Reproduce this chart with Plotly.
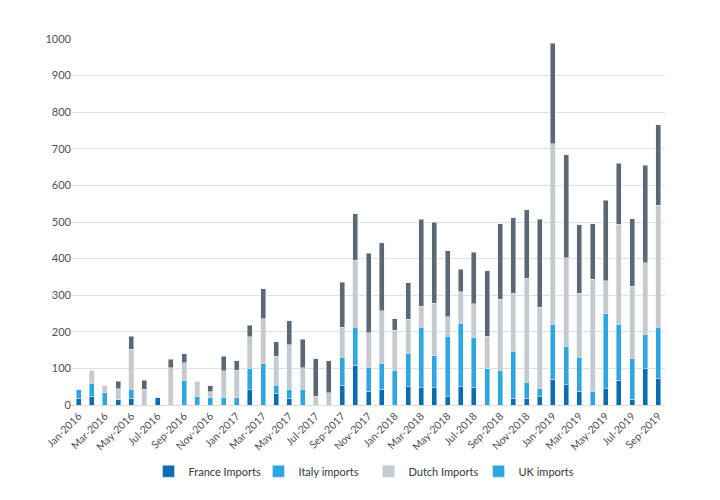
import plotly.graph_objects as go

months = [
    "Jan-2016", "Feb-2016", "Mar-2016", "Apr-2016", "May-2016", "Jun-2016",
    "Jul-2016", "Aug-2016", "Sep-2016", "Oct-2016", "Nov-2016", "Dec-2016",
    "Jan-2017", "Feb-2017", "Mar-2017", "Apr-2017", "May-2017", "Jun-2017",
    "Jul-2017", "Aug-2017", "Sep-2017", "Oct-2017", "Nov-2017", "Dec-2017",
    "Jan-2018", "Feb-2018", "Mar-2018", "Apr-2018", "May-2018", "Jun-2018",
    "Jul-2018", "Aug-2018", "Sep-2018", "Oct-2018", "Nov-2018", "Dec-2018",
    "Jan-2019", "Feb-2019", "Mar-2019", "Apr-2019", "May-2019", "Jun-2019",
    "Jul-2019", "Aug-2019", "Sep-2019",
]

france = [19, 24, 0, 16, 19, 0, 20, 0, 0, 0, 0, 0,
          0, 42, 0, 32, 19, 0, 0, 0, 54, 109, 38, 43,
          0, 50, 47, 47, 22, 50, 49, 0, 0, 19, 19, 23,
          71, 56, 38, 0, 45, 67, 16, 99, 73]
italy = [24, 36, 33, 0, 24, 0, 0, 0, 68, 22, 20, 20,
         20, 59, 113, 22, 22, 43, 0, 0, 77, 104, 64, 71,
         95, 92, 166, 88, 166, 173, 135, 99, 94, 127, 43, 23,
         149, 105, 93, 38, 205, 153, 111, 93, 140]
dutch = [0, 35, 20, 29, 109, 43, 0, 102, 48, 42, 16, 73,
         75, 85, 123, 79, 124, 59, 24, 33, 82, 182, 96, 144,
         109, 92, 57, 143, 53, 86, 92, 89, 195, 159, 284, 221,
         494, 241, 174, 305, 90, 274, 197, 196, 333]
uk = [0, 0, 0, 20, 36, 24, 0, 23, 24, 0, 16, 40,
      26, 32, 82, 40, 65, 78, 102, 88, 123, 128, 216, 185,
      32, 100, 237, 222, 180, 62, 142, 179, 206, 206, 188, 241,
      275, 282, 187, 152, 219, 166, 185, 267, 220]

tick_labels = months[::2]
y_ticks = [0, 100, 200, 300, 400, 500, 600, 700, 800, 900, 1000]

c_france = "#0b6cb0"
c_italy = "#2ea6df"
c_dutch = "#c5cace"
c_uk = "#5e6872"

fig = go.Figure()
fig.add_trace(go.Bar(x=months, y=france, name="France Imports", marker_color=c_france))
fig.add_trace(go.Bar(x=months, y=italy, name="Italy imports", marker_color=c_italy))
fig.add_trace(go.Bar(x=months, y=dutch, name="Dutch Imports", marker_color=c_dutch))
fig.add_trace(go.Bar(x=months, y=uk, name="UK imports", marker_color=c_uk, showlegend=False))
# legend entry as drawn in the original (light blue swatch)
fig.add_trace(go.Bar(x=[None], y=[None], name="UK imports", marker_color=c_italy))

fig.update_layout(
    width=720, height=500,
    barmode="stack", bargap=0.62,
    paper_bgcolor="white", plot_bgcolor="white",
    margin=dict(l=64, r=63, t=31, b=103, autoexpand=False),
    font=dict(family="Lato, Noto Sans, sans-serif", size=11, color="#555a60"),
    showlegend=True,
    legend=dict(
        orientation="h", x=0.5, xanchor="center", y=-0.181, yanchor="middle",
        traceorder="normal", font=dict(size=11, color="#33383f"),
        entrywidth=65, entrywidthmode="pixels",
        itemwidth=30,
    ),
    xaxis=dict(
        type="category", categoryorder="array", categoryarray=months,
        tickmode="array", tickvals=tick_labels, ticktext=tick_labels,
        tickangle=-45, showgrid=False, showline=True, linecolor="#dcdcdc",
        linewidth=1, ticks="", tickfont=dict(size=10.5, color="#4c5158"),
        automargin=False,
    ),
    yaxis=dict(
        range=[0, 1000], tickmode="array", tickvals=y_ticks,
        showgrid=True, gridcolor="#e0e0e0", gridwidth=1, zeroline=False,
        ticks="", ticklen=0, tickfont=dict(size=11, color="#4c5158"),
        automargin=False,
    ),
)

fig.write_html("out.html")
